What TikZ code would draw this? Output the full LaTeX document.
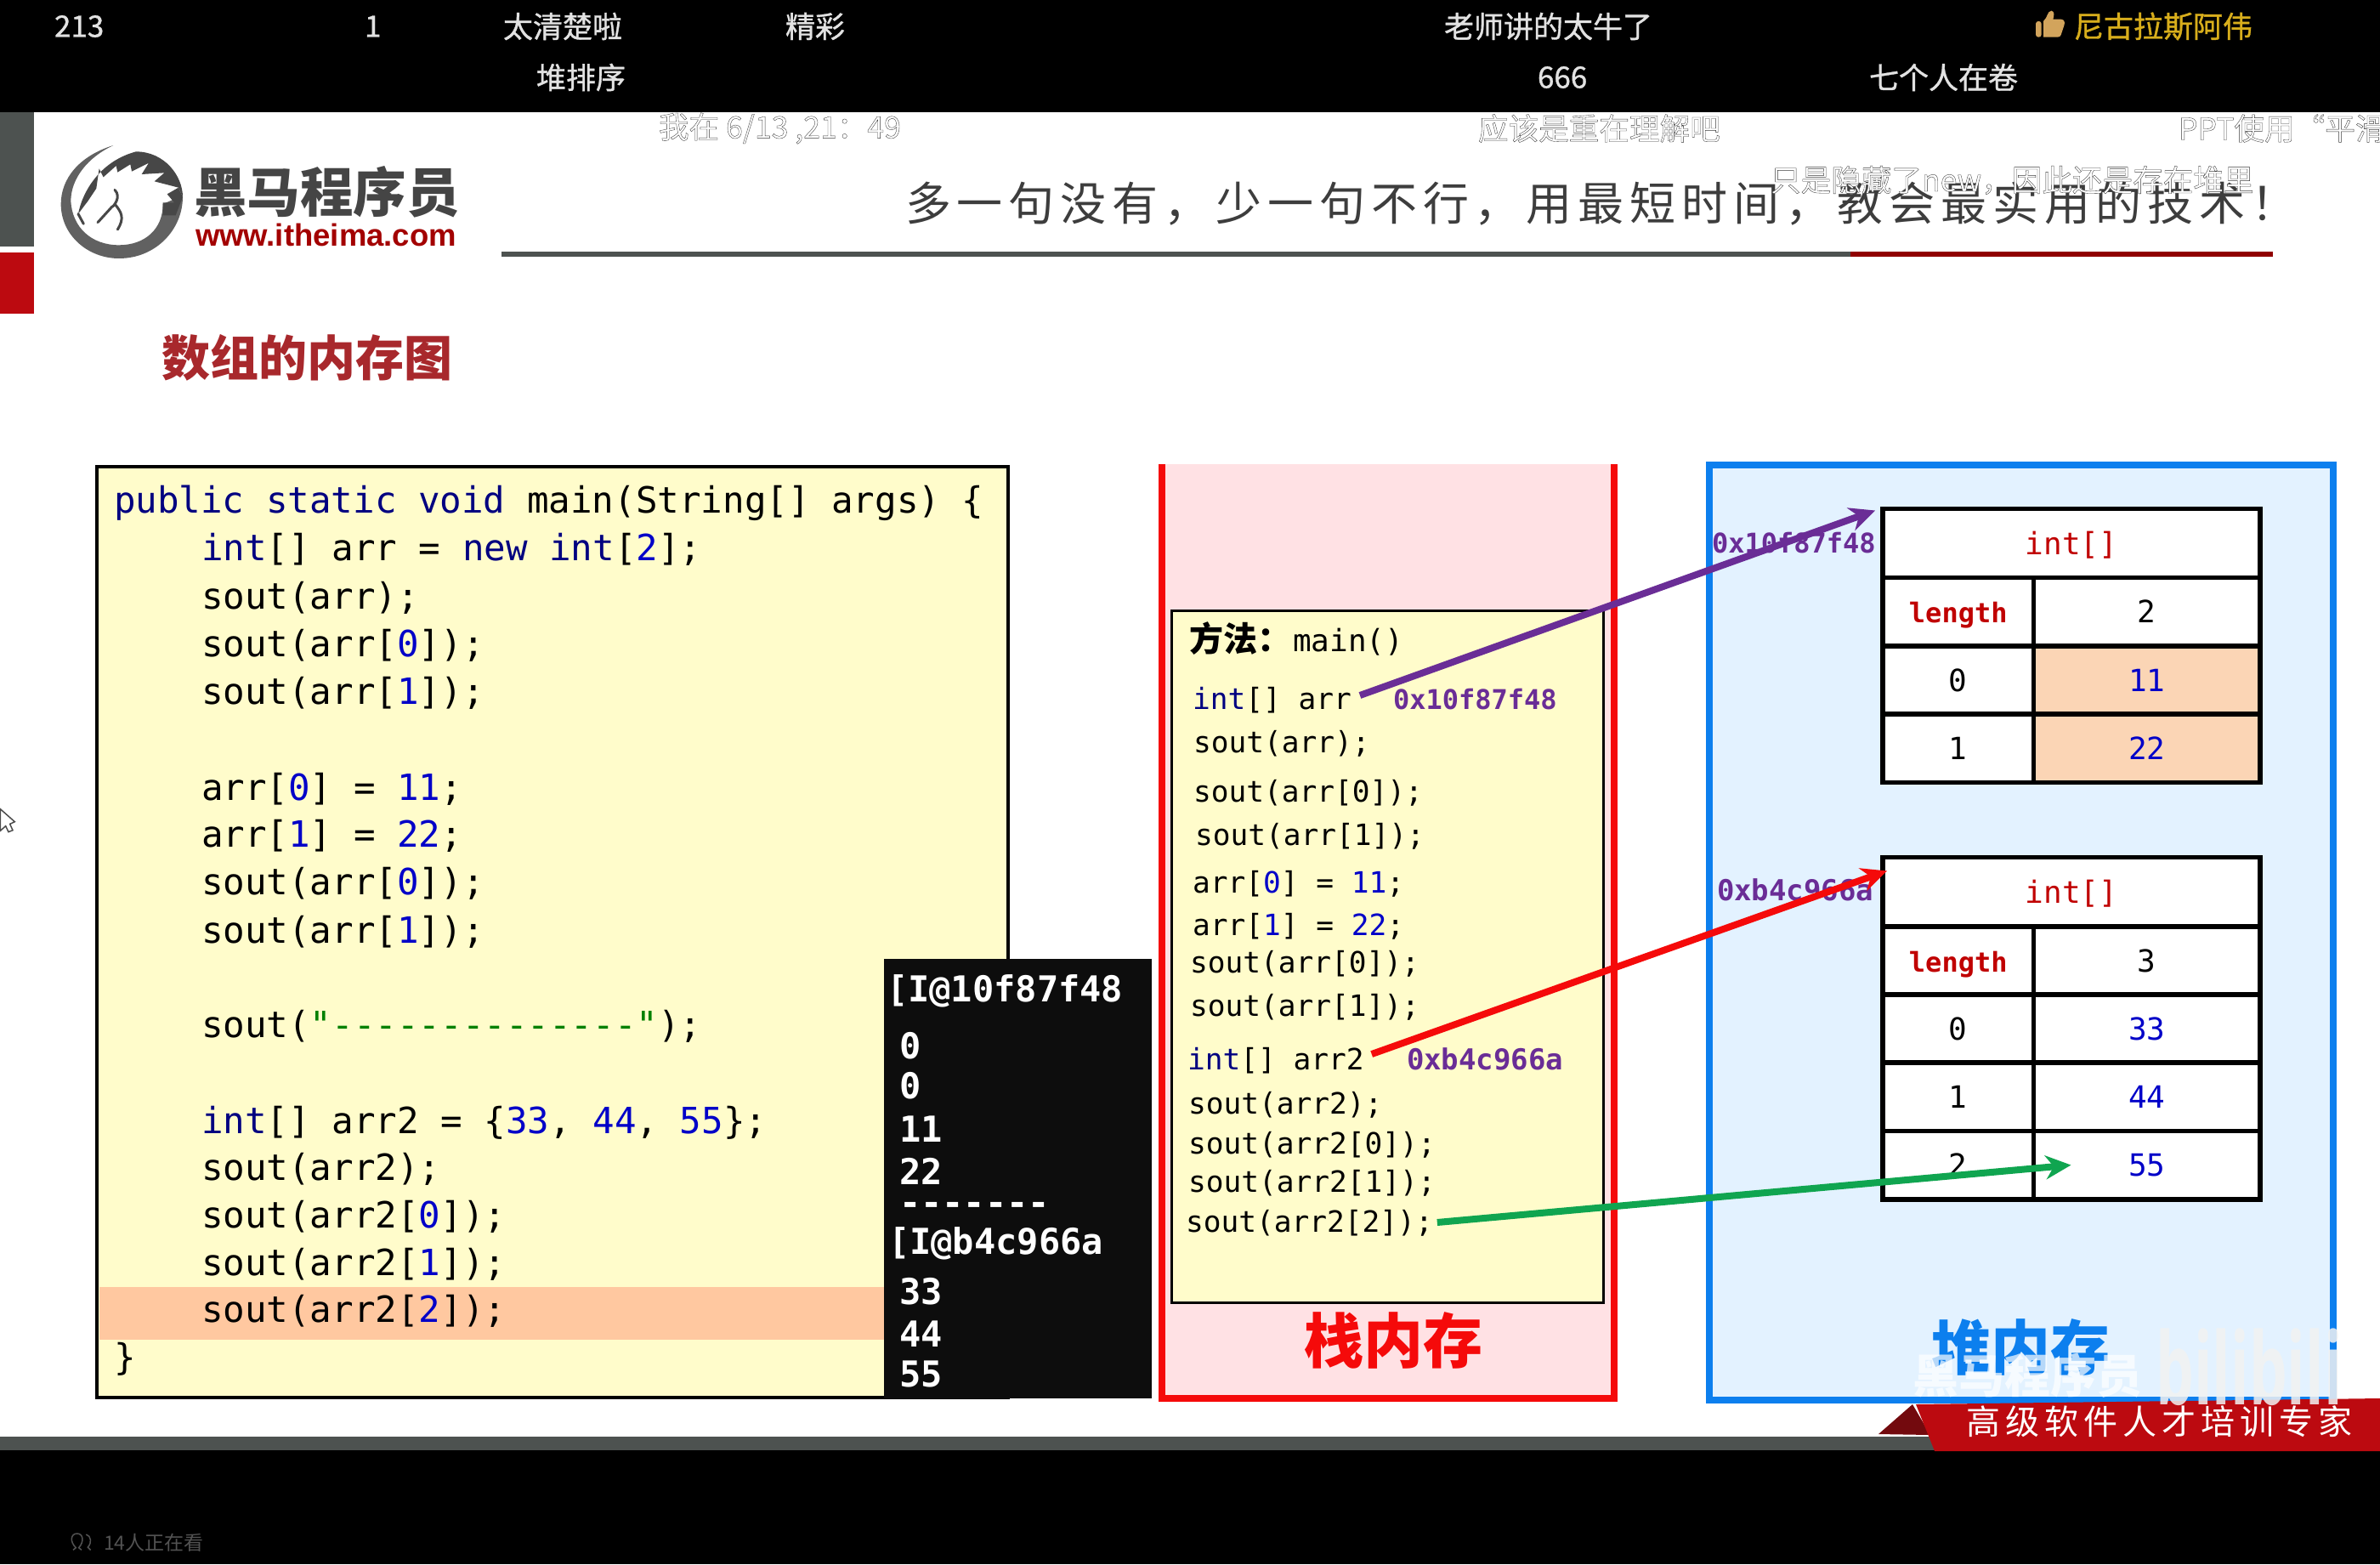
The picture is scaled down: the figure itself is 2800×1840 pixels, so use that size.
\documentclass[tikz,border=0pt]{standalone}
\usepackage{fontspec}
\usetikzlibrary{arrows.meta}
\setmonofont{DejaVu Sans Mono}
\newfontfamily\cjk{Noto Sans CJK SC}
\newfontfamily\cjkslogan[LetterSpace=12.8]{Noto Sans CJK SC}
\newfontfamily\cjkbanner[LetterSpace=15]{Noto Sans CJK SC}
\newfontfamily\cjkout[FakeBold=1]{Noto Sans CJK SC}
\newfontfamily\cjkdm[FakeBold=1]{Noto Sans CJK SC}
\newfontfamily\lib{Liberation Sans}
\newfontfamily\opens{Open Sans}
\newcommand\fsz[1]{\fontsize{#1}{#1}\selectfont}
\newcommand\kw[1]{\textcolor{kwblue}{#1}}
\newcommand\nm[1]{\textcolor{numblue}{#1}}
\newcommand\dmo[1]{\special{pdf:bcolor [1 1 1] [0.22 0.22 0.22]}#1\special{pdf:ecolor}}
\definecolor{kwblue}{HTML}{000080}
\definecolor{numblue}{HTML}{0000C8}
\definecolor{strgreen}{HTML}{008000}
\definecolor{panelyellow}{HTML}{FFFCCB}
\definecolor{hiline}{HTML}{FFC8A0}
\definecolor{stackpink}{HTML}{FFE1E4}
\definecolor{stackred}{HTML}{F50A0A}
\definecolor{heapblue}{HTML}{0C7FEE}
\definecolor{heapfill}{HTML}{E3F2FF}
\definecolor{addrpurple}{HTML}{6A2D96}
\definecolor{cellorange}{HTML}{FBD5B5}
\definecolor{lenred}{HTML}{C00000}
\definecolor{arrowgreen}{HTML}{10A550}
\definecolor{bannerred}{HTML}{BC0A10}
\definecolor{bannerdark}{HTML}{730A0E}
\definecolor{barGray}{HTML}{4D5250}
\definecolor{dmlight}{HTML}{E2E2E2}
\definecolor{gold}{HTML}{D8AE1C}
\definecolor{thumb}{HTML}{D2A45C}
\definecolor{titlered}{HTML}{A8282C}
\tikzset{
  txt/.style={anchor=base west,inner sep=0pt,outer sep=0pt},
  mid/.style={anchor=center,inner sep=0pt,outer sep=0pt},
  midl/.style={anchor=west,inner sep=0pt,outer sep=0pt},
  codeline/.style={txt,font=\ttfamily\fsz{42.5},text=black},
  stackline/.style={txt,font=\ttfamily\fsz{34.5},text=black},
  termline/.style={txt,font=\ttfamily\bfseries\fsz{42},text=white},
  addr/.style={txt,font=\ttfamily\bfseries\fsz{32},text=addrpurple},
  addrb/.style={txt,font=\ttfamily\bfseries\fsz{34},text=addrpurple},
  tcell/.style={draw=black,line width=5.5pt,fill=white,inner sep=0pt,outer sep=0pt,anchor=center,
     text height=26pt,text depth=0pt,font=\ttfamily\fsz{36}},
  headc/.style={tcell,minimum width=444pt,minimum height=81pt,text=lenred},
  lc/.style={tcell,minimum width=177.5pt,minimum height=80.5pt},
  rc/.style={tcell,minimum width=266.5pt,minimum height=80.5pt},
  lenc/.style={lc,font=\ttfamily\bfseries\fsz{32},text=lenred},
  dm/.style={midl,font=\cjkdm\fsz{35},text=dmlight},
  dmout/.style={midl,font=\cjkout\fsz{35.6}},
  arrowline/.style={line width=8pt,-{Stealth[length=30pt,width=28pt]}},
}
\begin{document}
\begin{tikzpicture}[x=1pt,y=1pt]
\useasboundingbox (0,0) rectangle (2800,-1840);
\fill[white] (0,0) rectangle (2800,-1840);
% black bands
\fill[black] (0,0) rectangle (2800,-132);
\fill[black] (0,-1706) rectangle (2800,-1840);
\fill[barGray] (0,-1690) rectangle (2800,-1706);
% left bars
\fill[barGray] (0,-132) rectangle (40,-290);
\fill[bannerred] (0,-297) rectangle (40,-369);
% logo
\begin{scope}[shift={(60,-160)},x=0.3333pt,y=-0.3333pt]
  \fill[black!62] (220,33) .. controls (100,70) and (35,150) .. (35,240)
     .. controls (35,350) and (130,432) .. (240,432)
     .. controls (370,432) and (465,330) .. (465,215) -- (430,225) -- (395,240)
     .. controls (395,330) and (330,385) .. (240,385)
     .. controls (140,385) and (75,320) .. (70,230)
     .. controls (70,150) and (130,75) .. (220,33) -- cycle;
  \fill[black!72] (96,275) .. controls (110,200) and (170,90) .. (300,55)
     .. controls (400,55) and (465,140) .. (465,215) -- (450,182) -- (365,160) -- (400,130) -- (320,135)
     -- (345,95) -- (285,125) -- (280,100) -- (235,128) -- (230,105) -- (185,145) -- (170,115)
     -- (160,185) -- (130,230) -- cycle;
  \fill[black!72] (465,215) -- (450,182) -- (410,205) -- (435,235) -- (395,235) -- (395,280) -- (440,280) -- cycle;
  \draw[black!72,line width=3pt,line cap=round] (96,275) -- (115,310);
  \draw[black!72,line width=3pt,line cap=round] (225,190) .. controls (250,215) and (220,250) .. (215,250) -- (165,305);
  \draw[black!72,line width=3pt,line cap=round] (225,240) .. controls (250,270) and (260,290) .. (235,330);
\end{scope}
\node[midl,font=\cjk\bfseries\fsz{62.5},text=black!73] (logotext) at (228,-226) {黑马程序员};
\node[txt,font=\lib\bfseries\fsz{36.5},text=lenred!85!black] (logourl) at (230,-289) {www.itheima.com};
% slogan and rule
\node[midl,font=\cjkslogan\fsz{54},text=black!76] (slogan) at (1065,-240) {多一句没有，少一句不行，用最短时间，教会最实用的技术！};
\draw[barGray,line width=6pt] (590,-299) -- (2177,-299);
\draw[lenred!75!black,line width=6pt] (2177,-299) -- (2674,-299);
% title
\node[midl,font=\cjk\bfseries\fsz{57},text=titlered] (title) at (190,-421) {数组的内存图};
% code panel
\node[draw=black,line width=3.5pt,fill=panelyellow,minimum width=1072pt,minimum height=1095pt,inner sep=0pt,outer sep=0pt] (codepanel) at (650,-1096.5) {};
\fill[hiline] (117,-1514) rectangle (1040,-1576);
\node[codeline] (c1) at (134,-603) {\kw{public static void} main(String[] args) \{};
\node[codeline] (c2) at (237,-659) {\kw{int}[] arr = \kw{new} \kw{int}[\nm{2}];};
\node[codeline] (c3) at (237,-716) {sout(arr);};
\node[codeline] (c4) at (237,-772) {sout(arr[\nm{0}]);};
\node[codeline] (c5) at (237,-828) {sout(arr[\nm{1}]);};
\node[codeline] (c6) at (237,-941) {arr[\nm{0}] = \nm{11};};
\node[codeline] (c7) at (237,-996) {arr[\nm{1}] = \nm{22};};
\node[codeline] (c8) at (237,-1052) {sout(arr[\nm{0}]);};
\node[codeline] (c9) at (237,-1109) {sout(arr[\nm{1}]);};
\node[codeline] (c10) at (237,-1220) {sout(\textcolor{strgreen}{"--------------"});};
\node[codeline] (c11) at (237,-1333) {\kw{int}[] arr2 = \{\nm{33}, \nm{44}, \nm{55}\};};
\node[codeline] (c12) at (237,-1388) {sout(arr2);};
\node[codeline] (c13) at (237,-1444) {sout(arr2[\nm{0}]);};
\node[codeline] (c14) at (237,-1500) {sout(arr2[\nm{1}]);};
\node[codeline] (c15) at (237,-1555) {sout(arr2[\nm{2}]);};
\node[codeline] (c16) at (134,-1611) {\}};
% terminal
\fill[black!95] (1040,-1128) rectangle (1355,-1645);
\node[termline] (t1) at (1043,-1178) {[I@10f87f48};
\node[termline] (t2) at (1058,-1245) {0};
\node[termline] (t3) at (1058,-1292) {0};
\node[termline] (t4) at (1058,-1343) {11};
\node[termline] (t5) at (1058,-1393) {22};
\node[termline] (t6) at (1058,-1429) {-------};
\node[termline] (t7) at (1045,-1475) {[I@b4c966a};
\node[termline] (t8) at (1058,-1534) {33};
\node[termline] (t9) at (1058,-1584) {44};
\node[termline] (t10) at (1058,-1631) {55};
% stack
\node[fill=stackpink,minimum width=532pt,minimum height=1099pt,inner sep=0pt,outer sep=0pt] (stack) at (1633,-1095.5) {};
\draw[stackred,line width=8pt,line join=miter] (stack.north west) -- (stack.south west) -- (stack.south east) -- (stack.north east);
\node[draw=black,line width=3pt,fill=panelyellow,minimum width=508.5pt,minimum height=814pt,inner sep=0pt,outer sep=0pt] (frame) at (1632.25,-1125) {};
\node[txt,font=\cjk\bfseries\fsz{40}] (m1) at (1399,-766) {方法：};
\node[txt,font=\ttfamily\fsz{36}] (m2) at (1521,-766) {main()};
\node[stackline] (sArr) at (1403,-834) {\kw{int}[] arr};
\node[addr] (aA) at (1639,-834) {0x10f87f48};
\node[stackline] (s2) at (1404,-885) {sout(arr);};
\node[stackline] (s3) at (1404,-943) {sout(arr[0]);};
\node[stackline] (s4) at (1406,-994) {sout(arr[1]);};
\node[stackline] (s5) at (1403,-1050) {arr[\nm{0}] = \nm{11};};
\node[stackline] (s6) at (1403,-1100) {arr[\nm{1}] = \nm{22};};
\node[stackline] (s7) at (1400,-1144) {sout(arr[0]);};
\node[stackline] (s8) at (1400,-1195) {sout(arr[1]);};
\node[stackline] (sArrB) at (1397,-1258) {\kw{int}[] arr2};
\node[addrb] (aB) at (1655,-1258) {0xb4c966a};
\node[stackline] (s10) at (1398,-1310) {sout(arr2);};
\node[stackline] (s11) at (1398,-1357) {sout(arr2[0]);};
\node[stackline] (s12) at (1398,-1402) {sout(arr2[1]);};
\node[stackline] (sLast) at (1395,-1449) {sout(arr2[2]);};
\node[mid,font=\cjk\bfseries\fsz{70},text=stackred] (stacklabel) at (1639,-1577) {栈内存};
% heap
\node[draw=heapblue,line width=8pt,fill=heapfill,minimum width=734pt,minimum height=1100pt,inner sep=0pt,outer sep=0pt] (heap) at (2378,-1097) {};
\node[addr] (hA) at (2014,-650) {0x10f87f48};
\node[addrb] (hB) at (2020,-1059) {0xb4c966a};
% table 1
\node[headc] (h1) at (2437,-639) {int[]};
\node[lenc] (l1) at (2303.75,-719.75) {length};
\node[rc] (v1) at (2525.75,-719.75) {2};
\node[lc] (i10) at (2303.75,-800) {0};
\node[rc,fill=cellorange,text=numblue] (v10) at (2525.75,-800) {11};
\node[lc] (i11) at (2303.75,-880.3) {1};
\node[rc,fill=cellorange,text=numblue] (v11) at (2525.75,-880.3) {22};
% table 2
\node[headc] (h2) at (2437,-1049) {int[]};
\node[lenc] (l2) at (2303.75,-1130) {length};
\node[rc] (v2) at (2525.75,-1130) {3};
\node[lc] (i20) at (2303.75,-1210) {0};
\node[rc,text=numblue] (v20) at (2525.75,-1210) {33};
\node[lc] (i21) at (2303.75,-1290) {1};
\node[rc,text=numblue] (v21) at (2525.75,-1290) {44};
\node[lc] (i22) at (2303.75,-1370.5) {2};
\node[rc,text=numblue] (v22) at (2525.75,-1370.5) {55};
% arrows
\draw[arrowline,addrpurple] ([xshift=10pt,yshift=16pt]sArr.base east) -- ([xshift=-9pt,yshift=-2pt]h1.north west);
\draw[arrowline,stackred] ([xshift=9pt,yshift=18pt]sArrB.base east) -- ([xshift=5pt,yshift=-16pt]h2.north west);
\draw[arrowline,arrowgreen] ([xshift=5pt,yshift=11pt]sLast.base east) -- ([xshift=44pt]v22.west);
\node[mid,font=\cjk\bfseries\fsz{70},text=heapblue] (heaplabel) at (2377,-1585) {堆内存};
% banner
\fill[bannerdark] (2210,-1687) -- (2250,-1652) -- (2271,-1688) -- cycle;
\fill[bannerred] (2254,-1652) -- (2800,-1645) -- (2800,-1707) -- (2276,-1707) -- cycle;
\node[midl,font=\cjkbanner\fsz{40},text=white] (bannertext) at (2313,-1672) {高级软件人才培训专家};
% watermarks
\node[mid,font=\cjk\bfseries\fsz{54},text=white,opacity=0.7] (wm) at (2385,-1618) {黑马程序员};
\node[mid,font=\opens\bfseries,text=black!5,opacity=0.85] (bili) at (2646,-1608) {\scalebox{0.6}[1]{\fsz{118}bilibili}};
% danmaku on black
\node[dm] (d1) at (64,-31) {213};
\node[dm] (d2) at (429,-31) {1};
\node[dm] (d3) at (592,-31) {太清楚啦};
\node[dm] (d4) at (924,-31) {精彩};
\node[dm] (d5) at (631,-91) {堆排序};
\node[dm] (d6) at (1699,-31) {老师讲的太牛了};
\node[dm] (d7) at (1809,-91) {666};
\node[dm] (d8) at (2199,-91) {七个人在卷};
\node[dm,text=gold] (d9) at (2440,-31) {尼古拉斯阿伟};
% thumb icon
\begin{scope}[shift={(2380,0)},x=0.3333pt,y=-0.3333pt]
  \fill[thumb,rounded corners=3pt] (45,75) rectangle (65,131);
  \fill[thumb] (72,131) -- (72,75) .. controls (88,60) and (85,40) .. (100,38) .. controls (112,40) and (110,55) .. (106,68)
     -- (135,68) .. controls (148,70) and (148,80) .. (145,90) -- (134,123) .. controls (132,129) and (128,131) .. (122,131) -- cycle;
\end{scope}
% danmaku on white
\node[dmout] (o1) at (775,-151) {\dmo{我在 6/13 ,21：49}};
\node[dmout] (o2) at (1739,-151) {\dmo{应该是重在理解吧}};
\node[dmout] (o3) at (2563,-151) {\dmo{PPT使用“平滑切}};
\node[dmout] (o4) at (2083,-212) {\dmo{只是隐藏了new，因此还是存在堆里}};
% viewers
\begin{scope}[shift={(70,-1790)},x=0.3333pt,y=-0.3333pt]
  \draw[black!68,line width=1.5pt] (48,100) -- (58,92) .. controls (35,70) and (40,42) .. (62,42) .. controls (84,42) and (88,70) .. (68,92) -- (78,100);
  \draw[black!68,line width=1.5pt] (94,45) .. controls (112,50) and (115,75) .. (100,90) -- (110,100);
\end{scope}
\node[midl,font=\cjk\fsz{23},text=black!68] (viewers) at (122,-1815) {14人正在看};
% cursor
\begin{scope}[shift={(0,-930)},x=0.3333pt,y=-0.3333pt]
  \filldraw[fill=white,draw=black!70,line width=1.5pt] (1,65) -- (52,110) -- (35,118) -- (45,140) -- (30,146) -- (20,125) -- (1,142) -- cycle;
\end{scope}
\end{tikzpicture}
\end{document}
